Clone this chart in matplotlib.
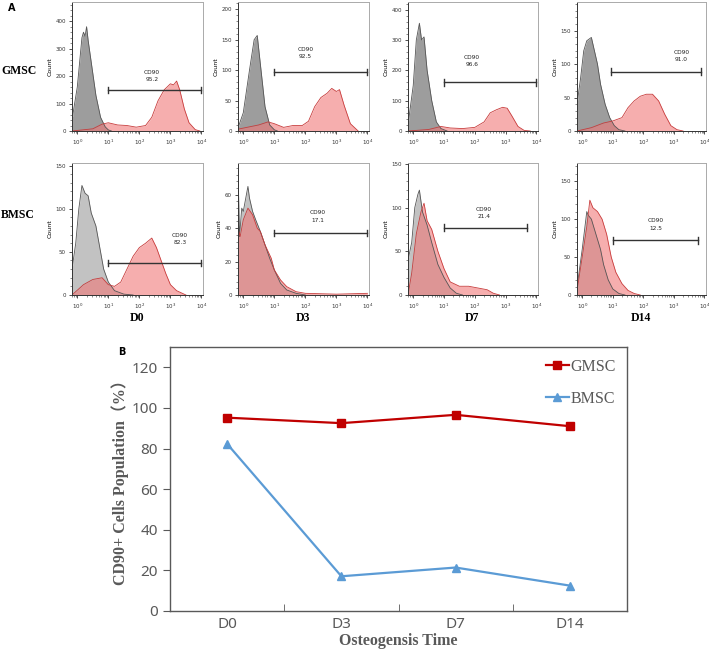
import numpy as np
import matplotlib.pyplot as plt
from matplotlib.ticker import MultipleLocator, LogLocator, NullFormatter

# ---- panel B data ----
days = ['D0', 'D3', 'D7', 'D14']
gmsc_pct = [95.2, 92.5, 96.6, 91.0]
bmsc_pct = [82.3, 17.1, 21.4, 12.5]

# ---- panel A histograms: (log10 intensity, count) ----
gmsc_d0_iso = [(-0.17, 40), (-0.1, 90), (0.0, 160), (0.1, 280), (0.15, 340), (0.2, 360), (0.25, 345),
               (0.3, 380), (0.35, 330), (0.45, 250), (0.6, 130), (0.75, 50), (0.9, 15), (1.0, 4), (1.1, 0)]
gmsc_d0_cd90 = [(-0.17, 0), (0.5, 8), (0.8, 25), (1.0, 30), (1.3, 22), (1.6, 20), (1.9, 14), (2.2, 20),
                (2.4, 50), (2.6, 110), (2.8, 150), (3.0, 172), (3.1, 168), (3.2, 182), (3.3, 150),
                (3.45, 80), (3.6, 30), (3.8, 5), (3.95, 0)]
gmsc_d3_iso = [(-0.17, 5), (0.0, 30), (0.2, 100), (0.35, 150), (0.45, 157), (0.55, 110), (0.7, 40),
               (0.85, 10), (1.0, 2), (1.1, 0)]
gmsc_d3_cd90 = [(-0.17, 3), (0.5, 10), (0.8, 15), (1.0, 12), (1.3, 6), (1.6, 9), (1.9, 9), (2.1, 16),
                (2.3, 40), (2.5, 55), (2.7, 62), (2.85, 70), (3.0, 65), (3.1, 68), (3.25, 42),
                (3.45, 12), (3.7, 0)]
gmsc_d7_iso = [(-0.17, 20), (0.0, 150), (0.1, 300), (0.2, 355), (0.27, 300), (0.35, 310), (0.45, 200),
               (0.6, 100), (0.75, 30), (0.9, 8), (1.1, 0)]
gmsc_d7_cd90 = [(-0.17, 0), (0.5, 5), (0.9, 15), (1.2, 10), (1.6, 8), (2.0, 12), (2.3, 30), (2.5, 60),
                (2.7, 70), (2.9, 78), (3.05, 75), (3.2, 50), (3.4, 15), (3.6, 2), (3.8, 0)]
gmsc_d14_iso = [(-0.17, 40), (-0.05, 80), (0.05, 120), (0.15, 135), (0.3, 140), (0.4, 120), (0.5, 100),
                (0.6, 70), (0.75, 40), (0.9, 20), (1.05, 8), (1.2, 2), (1.4, 0)]
gmsc_d14_cd90 = [(-0.17, 0), (0.3, 5), (0.7, 12), (1.0, 15), (1.3, 20), (1.5, 35), (1.7, 45), (1.9, 52),
                 (2.1, 55), (2.3, 55), (2.5, 45), (2.7, 25), (2.9, 8), (3.1, 2), (3.3, 0)]
bmsc_d0_iso = [(-0.17, 30), (-0.05, 60), (0.05, 100), (0.15, 127), (0.25, 118), (0.35, 115), (0.45, 95),
               (0.6, 80), (0.7, 60), (0.85, 30), (1.0, 15), (1.2, 5), (1.5, 1), (1.8, 0)]
bmsc_d0_cd90 = [(-0.17, 0), (0.2, 12), (0.5, 18), (0.8, 20), (1.0, 12), (1.2, 10), (1.4, 15), (1.6, 30),
                (1.8, 45), (2.0, 55), (2.2, 60), (2.4, 66), (2.55, 55), (2.7, 40), (2.85, 25), (3.0, 12),
                (3.2, 5), (3.5, 0)]
bmsc_d3_iso = [(-0.17, 75), (-0.12, 35), (-0.05, 52), (0.0, 50), (0.05, 55), (0.15, 65), (0.2, 58),
               (0.3, 50), (0.4, 45), (0.55, 38), (0.7, 30), (0.85, 22), (1.0, 15), (1.2, 7), (1.4, 3),
               (1.7, 1), (2.0, 0)]
bmsc_d3_cd90 = [(-0.17, 40), (-0.1, 35), (0.0, 45), (0.15, 52), (0.3, 48), (0.45, 40), (0.55, 38),
                (0.7, 30), (0.9, 22), (1.0, 15), (1.2, 9), (1.4, 5), (1.7, 2), (2.0, 1), (3.0, 0.5), (4.0, 1)]
bmsc_d7_iso = [(-0.17, 40), (-0.05, 60), (0.05, 100), (0.15, 115), (0.2, 120), (0.3, 95), (0.45, 80),
               (0.6, 60), (0.8, 35), (1.0, 20), (1.2, 8), (1.4, 2), (1.6, 0)]
bmsc_d7_cd90 = [(-0.17, 0), (-0.05, 25), (0.1, 70), (0.25, 95), (0.35, 105), (0.45, 85), (0.6, 75),
                (0.8, 50), (1.0, 30), (1.2, 15), (1.5, 10), (1.8, 10), (2.1, 8), (2.4, 6), (2.6, 2), (2.8, 0)]
bmsc_d14_iso = [(-0.17, 10), (0.0, 60), (0.15, 110), (0.2, 105), (0.3, 100), (0.45, 80), (0.6, 60),
                (0.7, 40), (0.85, 20), (1.0, 8), (1.2, 2), (1.4, 0)]
bmsc_d14_cd90 = [(-0.17, 5), (0.0, 50), (0.15, 90), (0.25, 125), (0.35, 115), (0.5, 110), (0.65, 100),
                 (0.8, 80), (0.95, 50), (1.1, 30), (1.3, 15), (1.5, 6), (1.7, 2), (1.9, 0)]

iso_curves = [gmsc_d0_iso, gmsc_d3_iso, gmsc_d7_iso, gmsc_d14_iso,
              bmsc_d0_iso, bmsc_d3_iso, bmsc_d7_iso, bmsc_d14_iso]
cd90_curves = [gmsc_d0_cd90, gmsc_d3_cd90, gmsc_d7_cd90, gmsc_d14_cd90,
               bmsc_d0_cd90, bmsc_d3_cd90, bmsc_d7_cd90, bmsc_d14_cd90]

# axis tops and y tick steps per panel
y_max = [470, 212, 425, 193, 153, 79, 151, 174]
y_step = [100, 50, 100, 50, 50, 20, 50, 50]
# gate: log start, log end, count level, label log x, label count
gate_lo = [1.0, 1.0, 1.0, 0.95, 1.0, 1.0, 1.0, 1.0]
gate_hi = [4.0, 4.0, 4.0, 3.9, 4.0, 4.0, 3.7, 3.8]
gate_y = [150, 97, 160, 89, 37, 37, 77, 72]
lab_x = [2.4, 2.0, 1.9, 3.25, 3.3, 2.4, 2.3, 2.4]
lab_y = [200, 128, 230, 112, 65, 47, 94, 93]

fig = plt.figure(figsize=(7.09, 6.54), dpi=100)
W, H = 709, 654

def px_axes(x0, y0, x1, y1):
    return fig.add_axes([x0 / W, 1 - y1 / H, (x1 - x0) / W, (y1 - y0) / H])

col_x = [(72, 203), (238, 369), (408, 538), (577, 706)]
row_y = [(2, 131), (163, 295)]
pcts = gmsc_pct + bmsc_pct

for k in range(8):
    r, c = divmod(k, 4)
    ax = px_axes(col_x[c][0], row_y[r][0], col_x[c][1], row_y[r][1])
    iso = np.array(iso_curves[k])
    cd = np.array(cd90_curves[k])
    gray = '#8c8c8c' if r == 0 else '#b8b8b8'
    ax.fill_between(10 ** iso[:, 0], iso[:, 1], color=gray, alpha=0.85, lw=0)
    ax.plot(10 ** iso[:, 0], iso[:, 1], color='#555555', lw=0.6)
    ax.fill_between(10 ** cd[:, 0], cd[:, 1], color='#f07878', alpha=0.6, lw=0)
    ax.plot(10 ** cd[:, 0], cd[:, 1], color='#c83c3c', lw=0.6)
    # gate bar
    ax.plot([10 ** gate_lo[k], 10 ** gate_hi[k]], [gate_y[k], gate_y[k]], color='#333333', lw=1.0)
    for gx in (gate_lo[k], gate_hi[k]):
        ax.plot([10 ** gx] * 2, [gate_y[k] - y_max[k] * 0.025, gate_y[k] + y_max[k] * 0.025],
                color='#333333', lw=1.0)
    ax.text(10 ** lab_x[k], lab_y[k], 'CD90\n%.1f' % pcts[k], ha='center', va='center',
            fontsize=4.2, linespacing=1.6, color='#222222')
    ax.set_xscale('log')
    ax.set_xlim(10 ** -0.17, 10 ** 4.05)
    ax.set_ylim(0, y_max[k])
    ax.xaxis.set_major_locator(LogLocator(base=10, numticks=10))
    ax.xaxis.set_minor_locator(LogLocator(base=10, subs=np.arange(2, 10), numticks=10))
    ax.xaxis.set_minor_formatter(NullFormatter())
    ax.yaxis.set_major_locator(MultipleLocator(y_step[k]))
    ax.yaxis.set_minor_locator(MultipleLocator(y_step[k] / 5))
    ax.tick_params(which='major', labelsize=4, length=2.5, width=0.6, pad=2, colors='#333333')
    ax.tick_params(which='minor', length=1.2, width=0.4, colors='#333333')
    ax.set_ylabel('Count', fontsize=4.5, labelpad=2)
    for s in ('top', 'right'):
        ax.spines[s].set_color('#aaaaaa')
    for s in ('left', 'bottom'):
        ax.spines[s].set_color('#333333')
    for s in ax.spines.values():
        s.set_linewidth(0.7)

serif = ['Liberation Serif', 'Noto Sans CJK SC']
fig.text(8 / W, 1 - 8 / H, 'A', fontsize=7, fontweight='bold', ha='left', va='center')
fig.text(1 / W, 1 - 71 / H, 'GMSC', fontsize=8.5, fontweight='bold', family=serif, ha='left', va='center')
fig.text(1 / W, 1 - 215 / H, 'BMSC', fontsize=8.5, fontweight='bold', family=serif, ha='left', va='center')
for c, (lab, xx) in enumerate(zip(days, [137, 303, 472, 641])):
    fig.text(xx / W, 1 - 318 / H, lab, fontsize=8.5, fontweight='bold', family=serif, ha='center', va='center')

# ---- panel B ----
axb = px_axes(170, 347, 627, 611)
x = np.arange(len(days))
axb.plot(x, gmsc_pct, color='#c00000', lw=1.6, marker='s', markersize=6, label='GMSC')
axb.plot(x, bmsc_pct, color='#5b9bd5', lw=1.6, marker='^', markersize=6, label='BMSC')
axb.set_xlim(-0.5, 3.5)
axb.set_ylim(0, 130)
axb.set_yticks([0, 20, 40, 60, 80, 100, 120])
axb.set_xticks(x)
axb.set_xticklabels(days)
axb.set_xticks([0.5, 1.5, 2.5], minor=True)
axb.tick_params(axis='x', which='major', length=0, pad=4)
axb.tick_params(axis='x', which='minor', direction='in', length=5, color='#595959')
axb.tick_params(axis='y', direction='out', length=5, color='#595959')
axb.tick_params(labelsize=11, labelcolor='#595959')
for lbl in axb.get_xticklabels() + axb.get_yticklabels():
    lbl.set_family('Noto Sans')
for s in axb.spines.values():
    s.set_color('#595959')
    s.set_linewidth(1.0)
axb.set_ylabel('CD90+ Cells Population（%）', fontsize=11.5, fontweight='bold', family=serif,
               color='#595959', labelpad=2)
axb.set_xlabel('Osteogensis Time', fontsize=11.5, fontweight='bold', family=serif,
               color='#595959', labelpad=1)
leg = axb.legend(loc='upper right', frameon=False, handlelength=1.4, handletextpad=0.1,
                 labelspacing=1.0, borderpad=0, borderaxespad=0, bbox_to_anchor=(0.975, 0.955),
                 prop={'family': 'Liberation Serif', 'size': 11.5})
for t in leg.get_texts():
    t.set_color('#595959')
fig.text(122 / W, 1 - 352 / H, 'B', fontsize=7, fontweight='bold', ha='center', va='center')

fig.savefig('out.png', dpi=100)
